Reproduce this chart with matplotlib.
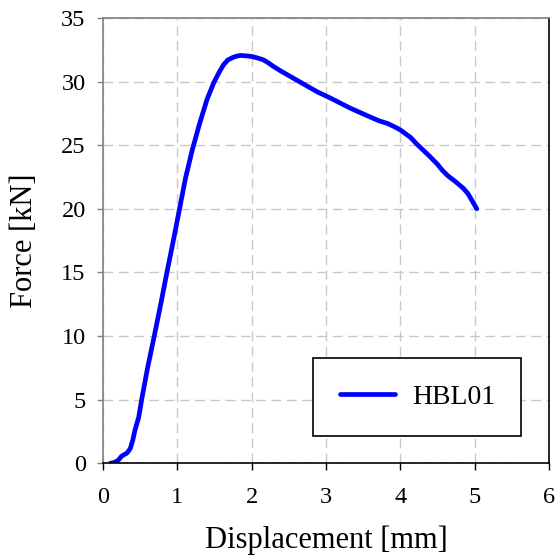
import matplotlib
matplotlib.use("Agg")
import matplotlib.pyplot as plt

plt.rcParams['font.family'] = ['Liberation Serif', 'DejaVu Serif']

# Load-displacement record of specimen HBL01
displacement = [0.10, 0.12, 0.16, 0.20, 0.23, 0.25, 0.28, 0.32, 0.35, 0.37, 0.40, 0.43,
                0.48, 0.52, 0.60, 0.69, 0.78, 0.86, 0.95, 1.03, 1.11, 1.20, 1.30,
                1.40, 1.49, 1.56, 1.62, 1.68, 1.75, 1.80, 1.85, 1.92, 2.00, 2.08,
                2.16, 2.23, 2.29, 2.40, 2.52, 2.70, 2.88, 3.06, 3.33, 3.60, 3.72,
                3.83, 3.92, 4.00, 4.07, 4.14, 4.22, 4.31, 4.40, 4.50, 4.57, 4.64,
                4.75, 4.85, 4.91, 4.95, 5.00, 5.03]
force = [0.0, 0.0, 0.08, 0.2, 0.4, 0.55, 0.65, 0.78, 1.0, 1.2, 1.8, 2.6,
         3.6, 5.0, 7.5, 10.0, 12.6, 15.0, 17.6, 20.0, 22.4, 24.6, 26.7,
         28.6, 29.9, 30.7, 31.3, 31.7, 31.9, 32.0, 32.05, 32.02, 31.97, 31.85,
         31.7, 31.45, 31.2, 30.8, 30.4, 29.8, 29.2, 28.7, 27.9, 27.2, 26.9,
         26.7, 26.45, 26.2, 25.9, 25.6, 25.1, 24.6, 24.1, 23.5, 23.0, 22.6,
         22.1, 21.6, 21.2, 20.8, 20.3, 20.0]

x_ticks = [0, 1, 2, 3, 4, 5, 6]
y_ticks = [0, 5, 10, 15, 20, 25, 30, 35]

fig = plt.figure(figsize=(5.6, 5.6), dpi=100)
ax = fig.add_axes([0.184, 0.173, 0.796, 0.795])

ax.plot(displacement, force, color='#0000ff', linewidth=3.4, label='HBL01',
        solid_capstyle='round', solid_joinstyle='round')

ax.set_xlim(0, 6)
ax.set_ylim(0, 35)
ax.set_xticks(x_ticks)
ax.set_yticks(y_ticks)
ax.tick_params(axis='both', labelsize=17.5, direction='out', width=1)
ax.tick_params(axis='y', length=4.5, color='#808080', pad=8)
ax.tick_params(axis='x', length=5, color='black', pad=12)

ax.grid(True, color='#c8c8c8', linestyle=(0, (7, 4)), linewidth=1)
ax.set_axisbelow(True)

for side in ['top', 'left']:
    ax.spines[side].set_color('#808080')
for side in ['bottom', 'right']:
    ax.spines[side].set_color('black')
for s in ax.spines.values():
    s.set_linewidth(1.2)

ax.set_xlabel('Displacement [mm]', fontsize=22, labelpad=13)
ax.set_ylabel('Force [kN]', fontsize=22, labelpad=16)

leg = ax.legend(loc='center', bbox_to_anchor=(0.705, 0.149), fontsize=20,
                frameon=True, fancybox=False, edgecolor='black', framealpha=1,
                handlelength=2.0, borderpad=0.95, handletextpad=0.6, borderaxespad=0)
leg.get_frame().set_linewidth(1.2)

fig.savefig('out.png', dpi=100, facecolor='white')
